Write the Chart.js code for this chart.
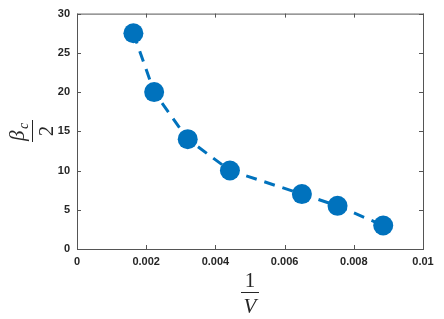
<!DOCTYPE html>
<html>
<head>
<meta charset="utf-8">
<script src="https://cdn.jsdelivr.net/npm/chart.js@4"></script>
<style>
  html, body { margin: 0; padding: 0; background: #fff; }
  #wrap { width: 444px; height: 319px; position: relative; }
</style>
</head>
<body>
<div id="wrap"><canvas id="chart"></canvas></div>
<script>
// data
var invV = [0.00163, 0.00223, 0.0032, 0.00442, 0.0065, 0.00753, 0.00885];
var betaHalf = [27.5, 20, 14, 10, 7, 5.5, 3];
var xTicks = [0, 0.002, 0.004, 0.006, 0.008, 0.01];
var yTicks = [0, 5, 10, 15, 20, 25, 30];

var blue = '#0072BD';
var axisColor = '#555555';
var textColor = '#262626';

var points = invV.map(function(v, i) { return { x: v, y: betaHalf[i] }; });

// box around plot + inward ticks on all four sides
var boxPlugin = {
    id: 'box',
    beforeDatasetsDraw: function(chart) {
        var ctx = chart.ctx, a = chart.chartArea;
        var xs = chart.scales.x, ys = chart.scales.y;
        ctx.save();
        ctx.strokeStyle = axisColor;
        ctx.lineWidth = 1;
        ctx.strokeRect(a.left + 0.5, a.top + 0.5, a.right - a.left, a.bottom - a.top);
        ctx.beginPath();
        xTicks.forEach(function(t) {
            var px = Math.round(xs.getPixelForValue(t)) + 0.5;
            ctx.moveTo(px, a.bottom); ctx.lineTo(px, a.bottom - 4);
            ctx.moveTo(px, a.top); ctx.lineTo(px, a.top + 4);
        });
        yTicks.forEach(function(t) {
            var py = Math.round(ys.getPixelForValue(t)) + 0.5;
            ctx.moveTo(a.left, py); ctx.lineTo(a.left + 4, py);
            ctx.moveTo(a.right, py); ctx.lineTo(a.right - 4, py);
        });
        ctx.stroke();
        ctx.restore();
    },
    afterDraw: function(chart) {
        var ctx = chart.ctx;
        ctx.save();
        ctx.fillStyle = textColor;
        ctx.strokeStyle = textColor;
        ctx.lineWidth = 1;

        // x label: 1 over V
        ctx.textAlign = 'center';
        ctx.textBaseline = 'alphabetic';
        ctx.font = '21px "Liberation Serif", serif';
        ctx.fillText('1', 250, 287);
        ctx.beginPath();
        ctx.moveTo(241, 292.5); ctx.lineTo(259, 292.5);
        ctx.stroke();
        ctx.font = 'italic 21px "Liberation Serif", serif';
        ctx.fillText('V', 250, 313);

        // y label: beta_c over 2, rotated
        ctx.translate(32.5, 131);
        ctx.rotate(-Math.PI / 2);
        ctx.font = 'italic 21px "Liberation Serif", serif';
        ctx.textAlign = 'left';
        ctx.fillText('\u03B2', -10, -9);
        ctx.font = 'italic 14px "Liberation Serif", serif';
        ctx.fillText('c', 2, -5);
        ctx.beginPath();
        ctx.moveTo(-11, 0); ctx.lineTo(11, 0);
        ctx.stroke();
        ctx.font = '21px "Liberation Serif", serif';
        ctx.textAlign = 'center';
        ctx.fillText('2', 0, 20);
        ctx.restore();
    }
};

new Chart(document.getElementById('chart'), {
    type: 'scatter',
    data: {
        datasets: [{
            data: points,
            showLine: true,
            borderColor: blue,
            backgroundColor: blue,
            borderWidth: 3,
            borderDash: [11, 8],
            pointRadius: 10,
            pointBorderWidth: 0,
            pointHoverRadius: 10,
            tension: 0
        }]
    },
    options: {
        responsive: true,
        maintainAspectRatio: false,
        animation: false,
        layout: { padding: { top: 13, right: 21, left: 0, bottom: 0 } },
        plugins: { legend: { display: false }, tooltip: { enabled: false } },
        scales: {
            x: {
                type: 'linear', min: 0, max: 0.01,
                afterBuildTicks: function(s) { s.ticks = xTicks.map(function(v) { return { value: v }; }); },
                afterFit: function(s) { s.height = 70; },
                grid: { display: false, drawTicks: false },
                border: { display: false },
                ticks: {
                    padding: 6,
                    color: textColor,
                    font: { family: '"Liberation Sans", Arial, sans-serif', size: 11, weight: 'bold' },
                    maxRotation: 0,
                    callback: function(v) { return String(+v.toFixed(3)); }
                }
            },
            y: {
                type: 'linear', min: 0, max: 30,
                afterBuildTicks: function(s) { s.ticks = yTicks.map(function(v) { return { value: v }; }); },
                afterFit: function(s) { s.width = 77; },
                grid: { display: false, drawTicks: false },
                border: { display: false },
                ticks: {
                    padding: 7,
                    color: textColor,
                    font: { family: '"Liberation Sans", Arial, sans-serif', size: 11, weight: 'bold' }
                }
            }
        }
    },
    plugins: [boxPlugin]
});
</script>
</body>
</html>
